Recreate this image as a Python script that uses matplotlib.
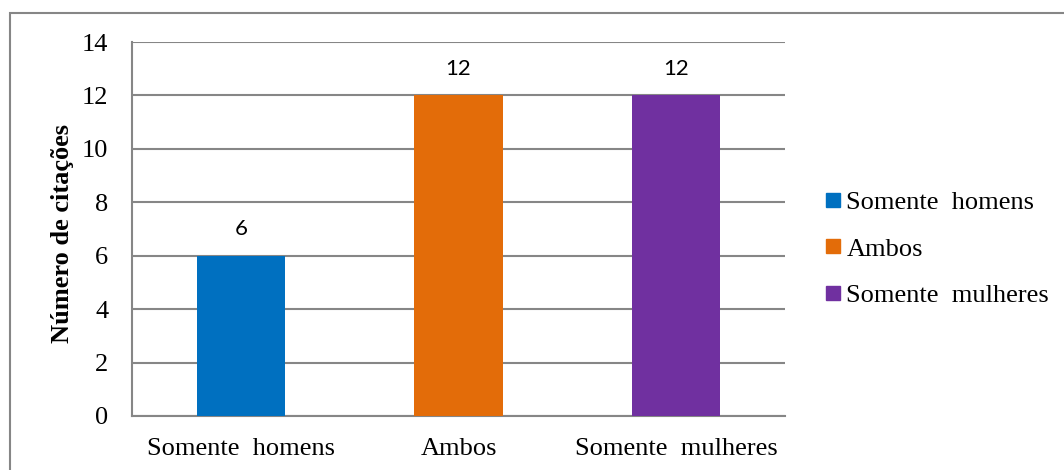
import matplotlib.pyplot as plt
from matplotlib.patches import Rectangle
from matplotlib.lines import Line2D

categories = ['Somente  homens', 'Ambos', 'Somente  mulheres']
values = [6, 12, 12]
colors = ['#0070C0', '#E36C09', '#7030A0']
yticks = [0, 2, 4, 6, 8, 10, 12, 14]

W, H = 1064, 470
fig = plt.figure(figsize=(W / 100, H / 100), dpi=100)

# chart frame (only top/left edges fall inside the canvas)
fig.patches.append(Rectangle((10 / W, -0.1), 1.2, (H - 13) / H + 0.1, transform=fig.transFigure,
                             fill=False, edgecolor='#868686', linewidth=1.5))

ax = fig.add_axes([132 / W, (H - 416) / H, (785 - 132) / W, (416 - 42) / H])
x = range(len(categories))
bars = ax.bar(x, values, width=0.405, color=colors, zorder=3)
ax.set_xlim(-0.5, len(categories) - 0.5)
ax.set_ylim(0, 14)
ax.set_yticks(yticks)
ax.set_xticks(list(x))
ax.set_xticklabels(categories)

serif = 'Liberation Serif'
for lab in ax.get_xticklabels() + ax.get_yticklabels():
    lab.set_fontfamily(serif)
    lab.set_fontsize(19)
ax.tick_params(axis='both', length=0)
ax.tick_params(axis='y', pad=17)
ax.tick_params(axis='x', pad=16)

ax.yaxis.grid(True, color='#868686', linewidth=1.5, zorder=0)
for s in ['top', 'right']:
    ax.spines[s].set_visible(False)
for s in ['left', 'bottom']:
    ax.spines[s].set_color('#868686')
    ax.spines[s].set_linewidth(1.5)

ax.set_ylabel('Número de citações', fontfamily=serif, fontweight='bold', fontsize=19)
ax.yaxis.set_label_coords(-0.089, 0.487)

for b, v in zip(bars, values):
    ax.annotate(str(v), (b.get_x() + b.get_width() / 2, v), xytext=(0, 12),
                textcoords='offset points', ha='center', va='bottom',
                fontfamily='Lato', fontsize=16)

handles = [Line2D([], [], marker='s', linestyle='', markersize=10, color=c) for c in colors]
fig.legend(handles, categories, loc='center left', bbox_to_anchor=(820 / W, (H - 249) / H),
           frameon=False, handletextpad=0.0, labelspacing=0.88, handlelength=1.0,
           borderaxespad=0, borderpad=0, prop={'family': serif, 'size': 19})

fig.savefig('out.png', dpi=100)
